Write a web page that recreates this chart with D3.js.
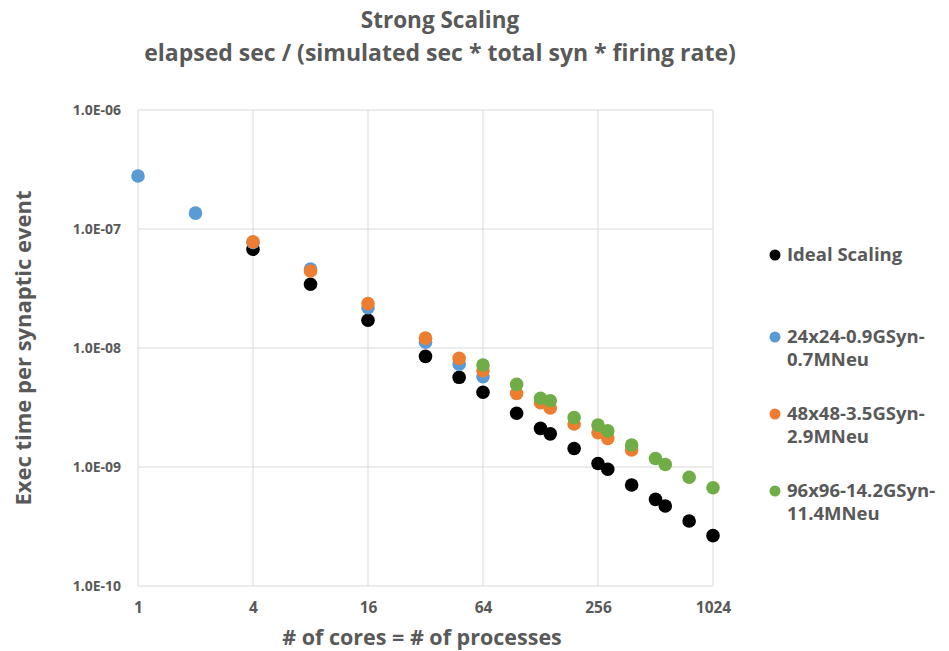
<!DOCTYPE html>
<html>
<head>
<meta charset="utf-8">
<script src="https://cdn.jsdelivr.net/npm/d3@7"></script>
<style>
  body { margin: 0; background: #fff; }
  text { font-family: "Open Sans", "DejaVu Sans", sans-serif; font-weight: bold; fill: #595959; }
</style>
</head>
<body>
<svg id="chart" width="949" height="651"></svg>
<script>
// values
var xTicks = [1, 4, 16, 64, 256, 1024];
var yTicks = [1e-6, 1e-7, 1e-8, 1e-9, 1e-10];

var idealX = [4, 8, 16, 32, 48, 64, 96, 128, 144, 192, 256, 288, 384, 512, 576, 768, 1024];
var idealY = [6.75e-8, 3.43e-8, 1.71e-8, 8.5e-9, 5.67e-9, 4.25e-9, 2.83e-9, 2.11e-9, 1.9e-9, 1.43e-9,
              1.07e-9, 9.57e-10, 7.06e-10, 5.35e-10, 4.7e-10, 3.52e-10, 2.65e-10];

var s24X = [1, 2, 4, 8, 16, 32, 48, 64];
var s24Y = [2.79e-7, 1.36e-7, 7.7e-8, 4.61e-8, 2.18e-8, 1.12e-8, 7.3e-9, 5.74e-9];

var s48X = [4, 8, 16, 32, 48, 64, 96, 128, 144, 192, 256, 288, 384];
var s48Y = [7.8e-8, 4.44e-8, 2.36e-8, 1.21e-8, 8.19e-9, 6.44e-9, 4.16e-9, 3.47e-9, 3.13e-9, 2.3e-9,
            1.94e-9, 1.74e-9, 1.39e-9];

var s96X = [64, 96, 128, 144, 192, 256, 288, 384, 512, 576, 768, 1024];
var s96Y = [7.2e-9, 4.95e-9, 3.78e-9, 3.6e-9, 2.6e-9, 2.25e-9, 2.01e-9, 1.53e-9, 1.18e-9, 1.05e-9,
            8.2e-10, 6.7e-10];

var seriesNames = ["Ideal Scaling", "24x24-0.9GSyn-\n0.7MNeu", "48x48-3.5GSyn-\n2.9MNeu", "96x96-14.2GSyn-\n11.4MNeu"];
var seriesColors = ["#000000", "#5b9bd5", "#ed7d31", "#70ad47"];

function App(){
    this.svg = d3.select("#chart");
    this.left = 138;
    this.right = 713;
    this.top = 110;
    this.bottom = 586;
}

App.prototype = {

    drawGrid: function(x, y){
        var svg = this.svg;
        svg.append("g").selectAll("line")
            .data(xTicks).enter().append("line")
            .attr("x1", function(d){ return x(d); })
            .attr("x2", function(d){ return x(d); })
            .attr("y1", this.top).attr("y2", this.bottom)
            .attr("stroke", "#d9d9d9").attr("stroke-width", 1);
        svg.append("g").selectAll("line")
            .data(yTicks).enter().append("line")
            .attr("x1", this.left).attr("x2", this.right)
            .attr("y1", function(d){ return y(d); })
            .attr("y2", function(d){ return y(d); })
            .attr("stroke", "#d9d9d9").attr("stroke-width", 1);
    },

    drawAxes: function(x, y){
        var svg = this.svg;
        var yAxis = d3.axisLeft(y).tickValues(yTicks).tickSize(0).tickPadding(17)
            .tickFormat(function(d){
                var e = Math.round(Math.log10(d));
                return "1.0E-" + (e > -10 ? "0" : "") + (-e);
            });
        var gy = svg.append("g").attr("transform", "translate(" + this.left + ",0)").call(yAxis);
        gy.select(".domain").remove();
        gy.selectAll("text").style("font-size", "14px").attr("fill", "#595959");

        var xAxis = d3.axisBottom(x).tickValues(xTicks).tickSize(0).tickPadding(16)
            .tickFormat(d3.format("d"));
        var gx = svg.append("g").attr("transform", "translate(0," + this.bottom + ")").call(xAxis);
        gx.select(".domain").remove();
        gx.selectAll("text").style("font-size", "15.5px").attr("fill", "#595959");
    },

    drawSeries: function(x, y){
        var svg = this.svg;
        var all = [[idealX, idealY], [s24X, s24Y], [s48X, s48Y], [s96X, s96Y]];
        all.forEach(function(s, i){
            svg.append("g").selectAll("circle")
                .data(d3.zip(s[0], s[1])).enter().append("circle")
                .attr("cx", function(d){ return x(d[0]); })
                .attr("cy", function(d){ return y(d[1]); })
                .attr("r", 6.8)
                .attr("fill", seriesColors[i]);
        });
    },

    drawLegend: function(){
        var svg = this.svg;
        var rowsY = [255, 337, 414, 491];
        seriesNames.forEach(function(name, i){
            var g = svg.append("g").attr("transform", "translate(775," + rowsY[i] + ")");
            g.append("circle").attr("r", 5.5).attr("fill", seriesColors[i]);
            var t = g.append("text").style("font-size", "18.5px");
            name.split("\n").forEach(function(line, j){
                t.append("tspan").attr("x", 12).attr("dy", j === 0 ? "0.35em" : "23px").text(line);
            });
        });
    },

    drawTitles: function(){
        var svg = this.svg;
        svg.append("text").attr("x", 440).attr("y", 28).attr("text-anchor", "middle")
            .style("font-size", "22.5px").text("Strong Scaling");
        svg.append("text").attr("x", 440).attr("y", 61).attr("text-anchor", "middle")
            .style("font-size", "23px").text("elapsed sec / (simulated sec * total syn * firing rate)");
        svg.append("text").attr("x", 422).attr("y", 645).attr("text-anchor", "middle")
            .style("font-size", "21.5px").text("# of cores = # of processes");
        svg.append("text").attr("transform", "translate(31,348) rotate(-90)").attr("text-anchor", "middle")
            .style("font-size", "22px").text("Exec time per synaptic event");
    },

    draw: function(){
        var x = d3.scaleLog().base(4).domain([1, 1024]).range([this.left, this.right]);
        var y = d3.scaleLog().domain([1e-10, 1e-6]).range([this.bottom, this.top]);
        this.drawGrid(x, y);
        this.drawAxes(x, y);
        this.drawSeries(x, y);
        this.drawLegend();
        this.drawTitles();
    }
}

new App().draw();
</script>
</body>
</html>
